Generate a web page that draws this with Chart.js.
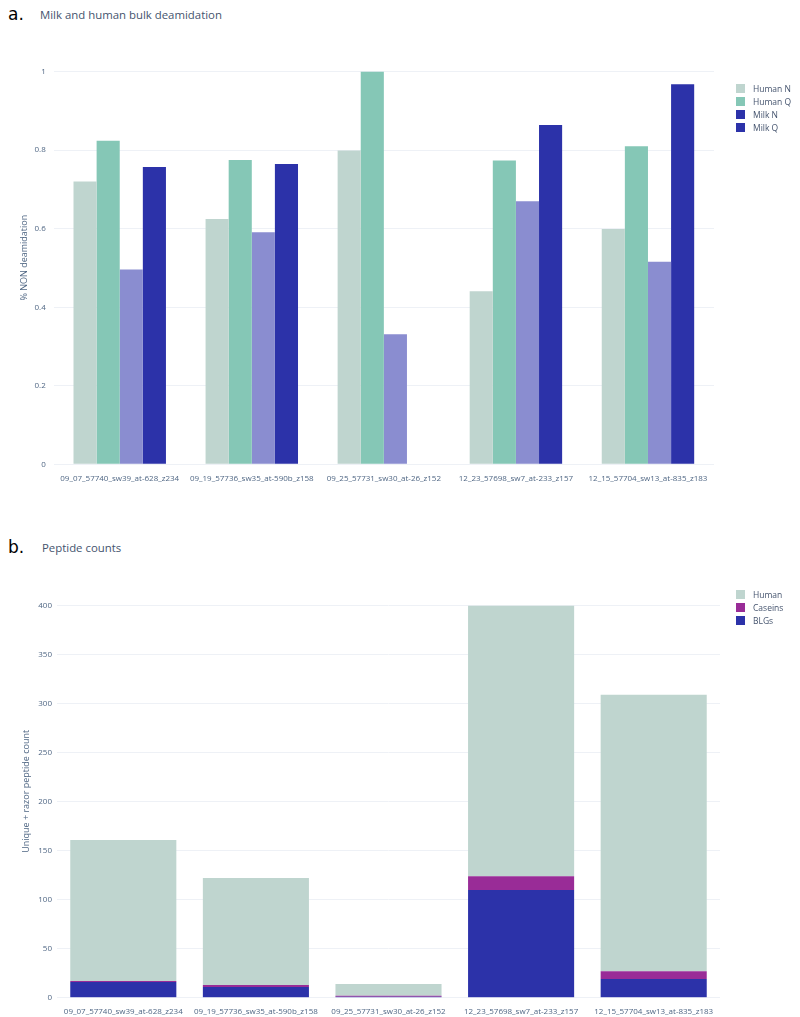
<!DOCTYPE html>
<html><head><meta charset="utf-8">
<script src="https://cdn.jsdelivr.net/npm/chart.js@4"></script>
<style>
body{margin:0;background:#fff;width:800px;height:1017px;position:relative;overflow:hidden;font-family:'Open Sans',sans-serif}
.lbl{position:absolute;font-family:'DejaVu Sans',sans-serif;font-size:17px;color:#000;line-height:1}
.ttl{position:absolute;font-size:11.4px;color:#45546e;line-height:1;white-space:nowrap}
.wrap{position:absolute;left:0;width:800px}
.leg{position:absolute;font-size:8.5px;color:#45546e;font-family:'Open Sans',sans-serif}
.leg div{height:13px;line-height:13px;white-space:nowrap}
.leg span{display:inline-block;width:9px;height:9px;margin-right:8px;vertical-align:-1px}
</style></head>
<body>
<div class="lbl" style="left:8px;top:6px">a.</div>
<div class="ttl" style="left:40px;top:9px">Milk and human bulk deamidation</div>
<div class="wrap" style="top:0;height:490px"><canvas id="c1" width="800" height="490"></canvas></div>
<div class="leg" id="leg1" style="left:736px;top:82px"></div>

<div class="lbl" style="left:8px;top:539px">b.</div>
<div class="ttl" style="left:42px;top:542px">Peptide counts</div>
<div class="wrap" style="top:500px;height:517px"><canvas id="c2" width="800" height="517"></canvas></div>
<div class="leg" id="leg2" style="left:736px;top:588px"></div>

<script>
// ---- Data ----
const samples = ["09_07_57740_sw39_at-628_z234","09_19_57736_sw35_at-590b_z158","09_25_57731_sw30_at-26_z152","12_23_57698_sw7_at-233_z157","12_15_57704_sw13_at-835_z183"];
const humanN = [0.720, 0.625, 0.799, 0.441, 0.599];
const humanQ = [0.824, 0.775, 1.000, 0.774, 0.810];
const milkN  = [0.496, 0.591, 0.331, 0.670, 0.516];
const milkQ  = [0.757, 0.765, null, 0.864, 0.968];

const blgs    = [16, 11, 1, 110, 19];
const caseins = [1, 2, 1, 14, 8];
const human   = [144, 109, 12, 276, 282];

const deamTicksStep = 0.2;
const countTicksStep = 50;

// ---- Styling ----
const tickColor = '#506784';
const gridColor = '#eef1f6';
const tickFont = {family:'Open Sans', size:8};
const titleFont = {family:'Open Sans', size:9};

function fixedWidth(w){ return s => { s.width = w; }; }
function fixedHeight(h){ return s => { s.height = h; }; }
const plainNum = v => String(+(+v).toFixed(3));

function buildLegend(id, items){
  const el = document.getElementById(id);
  items.forEach(it => {
    const d = document.createElement('div');
    const sw = document.createElement('span');
    sw.style.background = it.color;
    d.appendChild(sw);
    d.appendChild(document.createTextNode(it.label));
    el.appendChild(d);
  });
}

// ---- Chart a ----
const dsA = [
  {label:'Human N', data:humanN, backgroundColor:'#bfd5cf', legendColor:'#bfd5cf'},
  {label:'Human Q', data:humanQ, backgroundColor:'#85c7b6', legendColor:'#85c7b6'},
  {label:'Milk N', data:milkN, backgroundColor:'#8a8dd0', legendColor:'#2c32a9'},
  {label:'Milk Q', data:milkQ, backgroundColor:'#2c32a9', legendColor:'#2c32a9'}
];
new Chart(document.getElementById('c1'), {
  type:'bar',
  data:{labels:samples, datasets:dsA.map(d=>({label:d.label,data:d.data,backgroundColor:d.backgroundColor,borderWidth:0,categoryPercentage:0.7,barPercentage:1.0}))},
  options:{
    responsive:false, animation:false, devicePixelRatio:1,
    layout:{padding:{top:51,right:86,left:0,bottom:0}},
    plugins:{legend:{display:false}, tooltip:{enabled:false}},
    scales:{
      x:{grid:{display:false}, border:{display:false},
         ticks:{font:tickFont,color:tickColor,padding:2,maxRotation:0,autoSkip:false},
         afterFit:fixedHeight(25.7)},
      y:{min:0,max:1.0526, border:{display:false},
         grid:{color:gridColor,drawTicks:false},
         ticks:{stepSize:deamTicksStep,includeBounds:false,font:tickFont,color:tickColor,padding:8,callback:plainNum},
         title:{display:true,text:'% NON deamidation',font:titleFont,color:tickColor,padding:{top:19.4,bottom:0}},
         afterFit:fixedWidth(53.7)}
    }
  }
});
buildLegend('leg1', dsA.map(d=>({label:d.label,color:d.legendColor})));

// ---- Chart b ----
const dsB = [
  {label:'BLGs', data:blgs, backgroundColor:'#2c32a9'},
  {label:'Caseins', data:caseins, backgroundColor:'#992c97'},
  {label:'Human', data:human, backgroundColor:'#bfd5cf'}
];
new Chart(document.getElementById('c2'), {
  type:'bar',
  data:{labels:samples, datasets:dsB.map(d=>({label:d.label,data:d.data,backgroundColor:d.backgroundColor,borderWidth:0,categoryPercentage:0.8,barPercentage:1.0}))},
  options:{
    responsive:false, animation:false, devicePixelRatio:1,
    layout:{padding:{top:85,right:80,left:0,bottom:0}},
    plugins:{legend:{display:false}, tooltip:{enabled:false}},
    scales:{
      x:{stacked:true, grid:{display:false}, border:{display:false},
         ticks:{font:tickFont,color:tickColor,padding:1,maxRotation:0,autoSkip:false},
         afterFit:fixedHeight(19.3)},
      y:{stacked:true, min:0, max:421.05, border:{display:false},
         grid:{color:gridColor,drawTicks:false},
         ticks:{stepSize:countTicksStep,includeBounds:false,font:tickFont,color:tickColor,padding:5,callback:plainNum},
         title:{display:true,text:'Unique + razor peptide count',font:titleFont,color:tickColor,padding:{top:21.4,bottom:0}},
         afterFit:fixedWidth(57)}
    }
  }
});
buildLegend('leg2', dsB.slice().reverse().map(d=>({label:d.label,color:d.backgroundColor})));
</script>
</body></html>
